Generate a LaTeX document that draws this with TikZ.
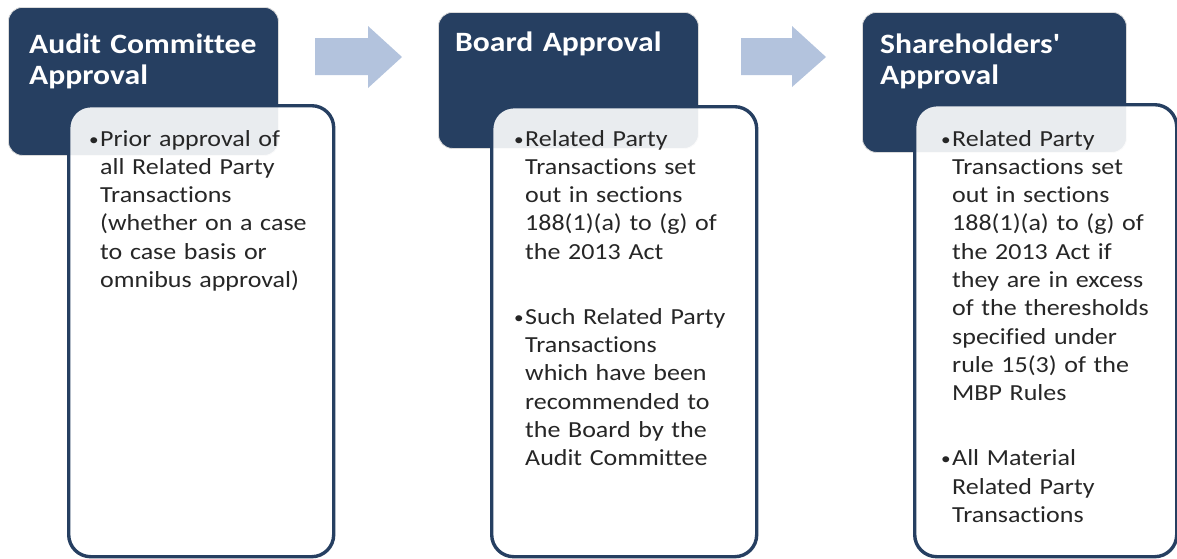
\documentclass[tikz,border=0pt]{standalone}
\usepackage{fontspec}
\setmainfont{Carlito}[FakeStretch=1.13,Ligatures=NoCommon]
\usetikzlibrary{positioning}
\definecolor{navy}{HTML}{263F61}
\definecolor{arrowblue}{HTML}{B3C3DD}
\newcommand{\bitem}[1]{\hangindent=11pt\hangafter=1\noindent\makebox[11pt][l]{\raisebox{1pt}{\fontsize{17}{17}\selectfont\textbullet}}#1\par}

\begin{document}
\begin{tikzpicture}[x=1pt,y=-1pt,line cap=round,
  headbox/.style={fill=navy,draw=black!14,line width=0.8pt,rounded corners=14pt,anchor=north west,inner sep=0pt},
  bodybox/.style={fill=white,fill opacity=0.9,draw=navy,line width=3.4pt,rounded corners=22pt,anchor=north west,inner sep=0pt},
  headtext/.style={text=white,font=\bfseries\fontsize{28}{31}\selectfont\addfontfeatures{Ligatures=TeXOff},text width=260pt,align=left,anchor=base west,inner sep=0pt},
  bodytext/.style={text=black!85,font=\fontsize{23}{28.3}\selectfont,text width=235pt,align=left,anchor=base west,inner sep=0pt},
  flowarrow/.style={fill=arrowblue}]
\useasboundingbox (0,0) rectangle (1177,558);
% step 1
\node[headbox,minimum width=270pt,minimum height=148pt] (audithead) at (8,7) {};
\node[headtext] (auditlbl) at (29,53) {Audit Committee\\Approval};
\node[bodybox,minimum width=265pt,minimum height=451pt] (auditbody) at (67,104) {};
\node[bodytext] (audittxt) at (89,146) {\bitem{Prior approval of\newline all Related Party\newline Transactions\newline (whether on a case\newline to case basis or\newline omnibus approval)}};
\fill[flowarrow] (315,38) -- (368,38) -- (368,26) -- (402,57) -- (368,88) -- (368,75) -- (315,75) -- cycle;
% step 2
\node[headbox,minimum width=260pt,minimum height=136pt] (boardhead) at (438,12) {};
\node[headtext] (boardlbl) at (455,51) {Board Approval};
\node[bodybox,minimum width=265pt,minimum height=450pt] (boardbody) at (490,105) {};
\node[bodytext] (boardtxt) at (514,146) {\bitem{Related Party\newline Transactions set\newline out in sections\newline 188(1)(a) to (g) of\newline the 2013 Act}\vspace{36.7pt}\bitem{Such Related Party\newline Transactions\newline which have been\newline recommended to\newline the Board by the\newline Audit Committee}};
\fill[flowarrow] (741,38) -- (792,38) -- (792,26) -- (826,57) -- (792,87) -- (792,75) -- (741,75) -- cycle;
% step 3
\node[headbox,minimum width=264pt,minimum height=140pt] (sharehead) at (862,12) {};
\node[headtext] (sharelbl) at (880,53) {Shareholders'\\Approval};
\node[bodybox,minimum width=262pt,minimum height=452pt] (sharebody) at (913,103) {};
\node[bodytext] (sharetxt) at (941,146) {\bitem{Related Party\newline Transactions set\newline out in sections\newline 188(1)(a) to (g) of\newline the 2013 Act if\newline they are in excess\newline of the theresholds\newline specified under\newline rule 15(3) of the\newline MBP Rules}\vspace{36.7pt}\bitem{All Material\newline Related Party\newline Transactions}};
\end{tikzpicture}
\end{document}
